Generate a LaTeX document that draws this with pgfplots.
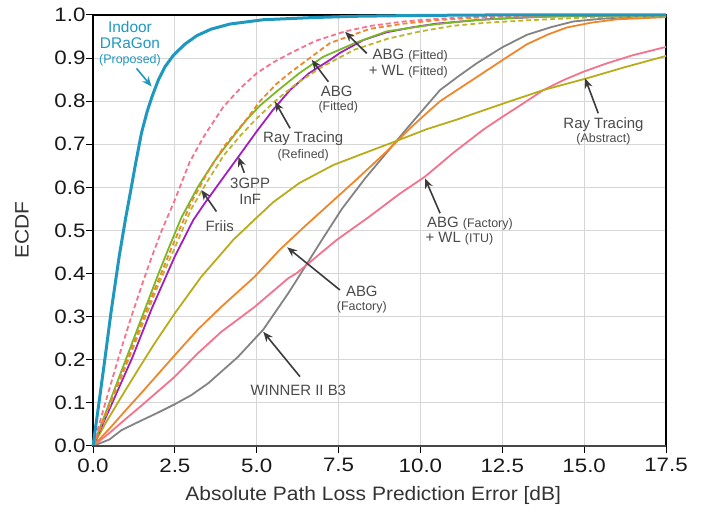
\documentclass[border=0pt]{standalone}
\usepackage{graphicx}
\usepackage{pgfplots}
\pgfplotsset{compat=1.18}
\usepackage{fontspec}
\setmainfont{Liberation Sans}
\usetikzlibrary{arrows.meta}
\definecolor{cblue}{HTML}{1F98C0}
\definecolor{cpink}{HTML}{F4728C}
\definecolor{corange}{HTML}{F0862A}
\definecolor{cgreen}{HTML}{7AB828}
\definecolor{colive}{HTML}{B8AC1A}
\definecolor{colived}{HTML}{BDB52E}
\definecolor{cpurple}{HTML}{A21EC0}
\definecolor{cgray}{HTML}{838383}
\definecolor{anntext}{HTML}{4A4A4A}
\definecolor{annarrow}{HTML}{3C3C3C}
\newcommand{\fs}[1]{\fontsize{#1}{#1}\selectfont}
\tikzset{
  dashsty/.style={dash pattern=on 5bp off 3bp},
  ann/.style={draw=annarrow, line width=1.6bp, -{Stealth[length=10bp,width=8bp]}},
  atext/.style={text=anntext, inner sep=0pt},
}
\begin{document}
\begin{tikzpicture}
\useasboundingbox (0bp,0bp) rectangle (712bp,512bp);
\begin{axis}[
  at={(93bp,66bp)}, anchor=south west,
  scale only axis, width=573bp, height=431bp,
  xmin=0, xmax=17.5, ymin=0, ymax=1,
  xtick={0,2.5,5,7.5,10,12.5,15,17.5},
  ytick={0,0.1,0.2,0.3,0.4,0.5,0.6,0.7,0.8,0.9,1.0},
  tick pos=left, tick align=outside,
  major tick length=7bp,
  tick style={black, line width=1bp},
  axis line style={black, line width=1.2bp},
  grid=major,
  major grid style={line width=0.9bp, color=black!16},
  /pgf/number format/.cd, fixed, fixed zerofill, precision=1, assume math mode=true,
  /pgfplots/.cd,
  xticklabel={\scalebox{1.15}[1]{\pgfmathprintnumber{\tick}}},
  yticklabel={\scalebox{1.15}[1]{\pgfmathprintnumber{\tick}}},
  tick label style={font=\fs{19.5}, text=black!90},
  yticklabel style={xshift=3bp},
  xticklabel style={yshift=-2bp},
  xlabel={\scalebox{1.08}[1]{Absolute Path Loss Prediction Error [dB]}},
  ylabel={\scalebox{1.08}[1]{ECDF}},
  label style={font=\fs{19.5}, text=black!80},
  xlabel style={at={(axis description cs:0.489,-0.114)}, anchor=center},
  ylabel style={at={(axis description cs:-0.124,0.501)}, anchor=center},
  clip=false,
  every axis plot/.append style={line width=1.8bp, line join=round},
]
% WINNER II B3
\addplot[cgray] coordinates {(0,0)(0.5,0.015)(0.875,0.037)(1.5,0.06)(2.0,0.078)(2.5,0.097)(3.0,0.118)(3.51,0.145)(4.18,0.19)(4.43,0.207)(5.2,0.27)(5.96,0.354)(6.22,0.385)(6.99,0.478)(7.6,0.55)(8.3,0.62)(9.16,0.698)(9.68,0.745)(10.6,0.826)(11.2,0.86)(11.72,0.888)(12.5,0.925)(13.25,0.954)(14.0,0.972)(14.67,0.985)(15.5,0.991)(16.5,0.996)(17.5,0.998)};
% ABG (Factory) + WL (ITU)
\addplot[cpink] coordinates {(0,0)(0.5,0.03)(1.0,0.063)(1.5,0.095)(2.5,0.161)(3.2,0.215)(3.92,0.265)(4.94,0.323)(5.96,0.389)(6.22,0.401)(7.44,0.478)(8.4,0.53)(9.38,0.586)(10.14,0.625)(11.0,0.68)(11.92,0.734)(12.43,0.76)(13.1,0.793)(13.76,0.826)(14.4,0.85)(15.0,0.869)(15.7,0.888)(16.5,0.907)(17.5,0.926)};
% ABG (Factory)
\addplot[corange] coordinates {(0,0)(0.5,0.04)(1.0,0.083)(1.5,0.125)(2.5,0.211)(3.2,0.27)(3.92,0.323)(4.94,0.393)(5.70,0.455)(6.4,0.505)(7.2,0.56)(8.0,0.615)(9.02,0.687)(9.68,0.737)(10.2,0.773)(10.6,0.8)(11.3,0.835)(11.92,0.866)(12.6,0.9)(13.25,0.932)(13.9,0.955)(14.47,0.971)(15.2,0.982)(16.0,0.99)(17.5,0.995)};
% Ray Tracing (Abstract)
\addplot[colive] coordinates {(0,0)(0.4,0.055)(0.866,0.114)(1.4,0.18)(1.88,0.238)(2.5,0.308)(3.31,0.393)(4.02,0.455)(4.28,0.478)(5.0,0.53)(5.51,0.566)(6.3,0.61)(7.34,0.652)(8.2,0.677)(9.07,0.702)(10.19,0.735)(11.1,0.757)(12.43,0.792)(13.76,0.826)(15.08,0.853)(16.2,0.878)(17.5,0.905)};
% purple
\addplot[cpurple] coordinates {(0,0)(0.5,0.085)(1.2,0.205)(1.8,0.32)(2.5,0.44)(3.06,0.524)(3.41,0.563)(4.0,0.625)(4.44,0.671)(5.0,0.73)(5.5,0.78)(6.02,0.826)(6.6,0.865)(7.24,0.896)(7.54,0.912)(8.26,0.942)(8.97,0.96)(9.8,0.972)(10.5,0.98)(12,0.99)(14,0.997)(17.5,1)};
% olive dashed
\addplot[colived, dashsty] coordinates {(0,0)(0.5,0.092)(1.0,0.185)(1.5,0.28)(2.0,0.375)(2.5,0.46)(3.0,0.55)(3.5,0.615)(4.0,0.675)(4.5,0.72)(5.0,0.76)(5.56,0.8)(6.2,0.84)(7.0,0.88)(8.0,0.92)(9.0,0.945)(10.0,0.962)(11.0,0.975)(12.0,0.982)(13.35,0.988)(15,0.994)(17.5,0.998)};
% Friis
\addplot[cgreen] coordinates {(0,0)(0.5,0.1)(1.0,0.2)(1.5,0.3)(2.0,0.4)(2.29,0.455)(2.7,0.53)(3.21,0.602)(3.7,0.66)(4.22,0.712)(4.68,0.756)(5.1,0.79)(5.6,0.822)(6.3,0.865)(7.03,0.903)(8.0,0.935)(8.97,0.962)(10.3,0.977)(11.5,0.987)(13,0.994)(15,0.998)(17.5,1)};
% ABG (Fitted)
\addplot[corange, dashsty] coordinates {(0,0)(0.5,0.095)(1.0,0.19)(1.5,0.29)(2.0,0.385)(2.4,0.46)(3.0,0.565)(3.5,0.635)(4.0,0.695)(4.69,0.758)(5.1,0.8)(5.6,0.84)(6.0,0.865)(6.53,0.895)(7.24,0.935)(8.46,0.968)(9.5,0.98)(10.5,0.988)(12,0.995)(14,0.999)(17.5,1)};
% ABG (Fitted) + WL (Fitted)
\addplot[cpink, dashsty] coordinates {(0,0)(0.46,0.122)(0.8,0.21)(1.17,0.30)(1.5,0.375)(1.8,0.44)(2.1,0.5)(2.5,0.571)(2.96,0.66)(3.4,0.72)(3.98,0.787)(4.5,0.83)(5.0,0.865)(5.5,0.89)(6.02,0.911)(6.8,0.94)(7.7,0.962)(8.5,0.975)(9.5,0.985)(10.5,0.991)(12,0.997)(14,1)(17.5,1)};
% Indoor DRaGon
\addplot[cblue, line width=3bp] coordinates {(0,0)(0.1,0.055)(0.2,0.11)(0.36,0.2)(0.55,0.31)(0.8,0.44)(1.0,0.53)(1.17,0.6)(1.3,0.655)(1.48,0.726)(1.65,0.775)(1.8,0.81)(2.0,0.85)(2.2,0.88)(2.45,0.906)(2.8,0.932)(3.17,0.952)(3.6,0.967)(4.18,0.979)(5.2,0.989)(6.7,0.994)(8,0.997)(10,0.999)(12,1)(17.5,1)};

% bottom axis line (dark grey, thicker, as in the reference)
\draw[line width=1.8bp, color=black!72] (rel axis cs:0,0) -- (rel axis cs:1,0);

% annotations
\node[text=cblue, inner sep=0pt, font=\fs{15.5}] at (axis cs:1.13,0.973) {Indoor};
\node[text=cblue, inner sep=0pt, font=\fs{15.5}] at (axis cs:1.13,0.934) {DRaGon};
\node[text=cblue, inner sep=0pt, font=\fs{12.5}] at (axis cs:1.13,0.896) {(Proposed)};
\draw[ann, draw=cblue] (axis cs:1.33,0.876) -- (axis cs:1.79,0.834);

\node[atext, anchor=east, font=\fs{15}] at (axis cs:10.84,0.905) {ABG {\fs{12.5}(Fitted)}};
\node[atext, anchor=east, font=\fs{15}] at (axis cs:10.84,0.868) {+ WL {\fs{12.5}(Fitted)}};
\draw[ann] (axis cs:8.36,0.911) -- (axis cs:7.70,0.961);

\node[atext, font=\fs{15}] at (axis cs:7.44,0.822) {ABG};
\node[atext, font=\fs{12.5}] at (axis cs:7.49,0.786) {(Fitted)};
\draw[ann] (axis cs:7.19,0.845) -- (axis cs:6.68,0.896);

\node[atext, font=\fs{15}] at (axis cs:6.42,0.712) {Ray Tracing};
\node[atext, font=\fs{12.5}] at (axis cs:6.42,0.675) {(Refined)};
\draw[ann] (axis cs:6.02,0.737) -- (axis cs:5.56,0.799);

\node[atext, font=\fs{15}] at (axis cs:4.80,0.61) {3GPP};
\node[atext, font=\fs{15}] at (axis cs:4.80,0.573) {InF};
\draw[ann] (axis cs:4.62,0.634) -- (axis cs:4.44,0.671);

\node[atext, font=\fs{15}] at (axis cs:3.87,0.51) {Friis};
\draw[ann] (axis cs:3.77,0.544) -- (axis cs:3.31,0.594);

\node[atext, font=\fs{15}] at (axis cs:15.59,0.746) {Ray Tracing};
\node[atext, font=\fs{12.5}] at (axis cs:15.59,0.712) {(Abstract)};
\draw[ann] (axis cs:15.43,0.772) -- (axis cs:15.03,0.853);

\node[atext, anchor=west, font=\fs{15}] at (axis cs:10.2,0.515) {ABG {\fs{12.5}(Factory)}};
\node[atext, anchor=west, font=\fs{15}] at (axis cs:10.15,0.48) {+ WL {\fs{12.5}(ITU)}};
\draw[ann] (axis cs:10.6,0.54) -- (axis cs:10.14,0.621);

\node[atext, font=\fs{15}] at (axis cs:8.21,0.358) {ABG};
\node[atext, font=\fs{12.5}] at (axis cs:8.21,0.323) {(Factory)};
\draw[ann] (axis cs:7.54,0.362) -- (axis cs:5.93,0.461);

\node[atext, font=\fs{15}] at (axis cs:6.27,0.13) {WINNER II B3};
\draw[ann] (axis cs:6.32,0.161) -- (axis cs:5.2,0.265);
\end{axis}
\end{tikzpicture}
\end{document}
